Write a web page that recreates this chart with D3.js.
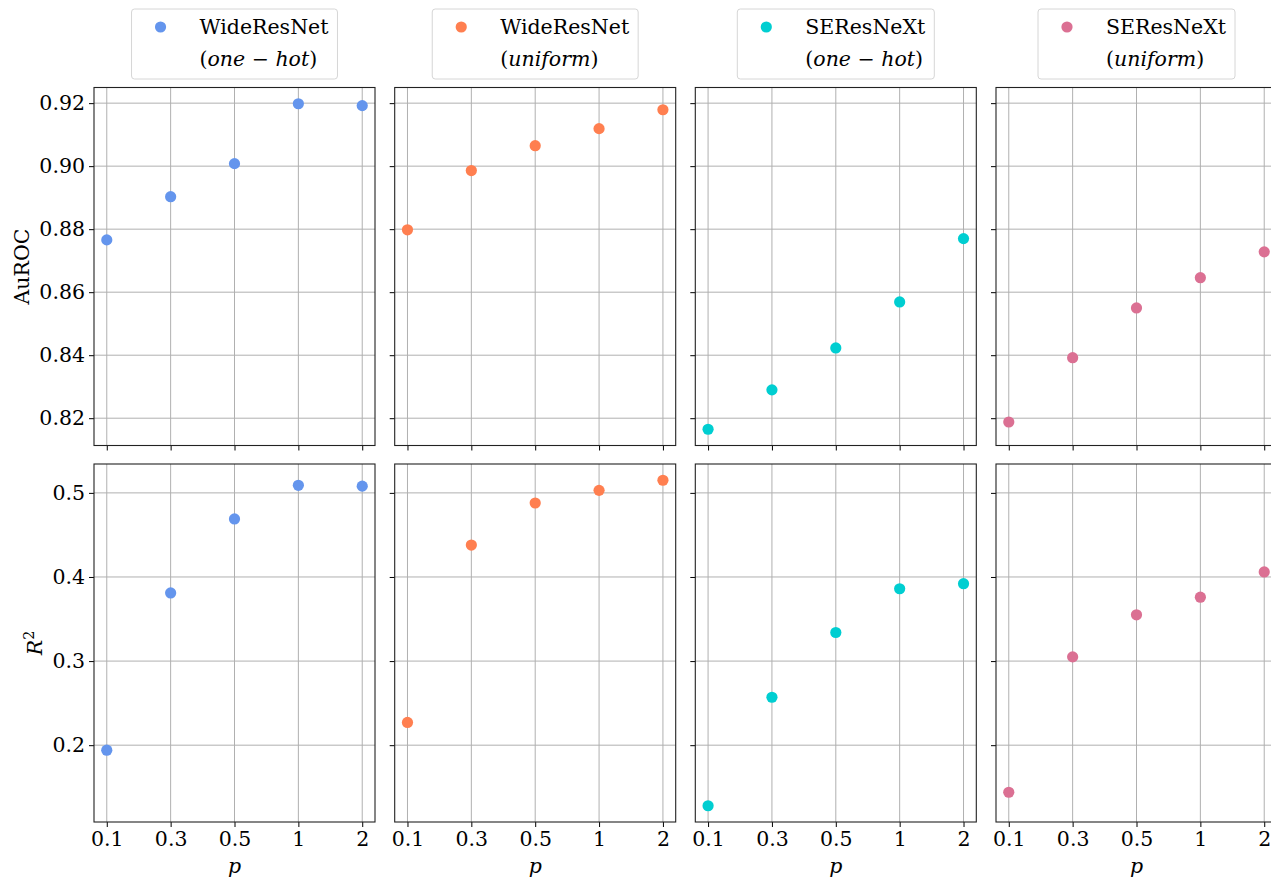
<!DOCTYPE html>
<html>
<head>
<meta charset="utf-8">
<script src="https://cdn.jsdelivr.net/npm/d3@7"></script>
<style>
  html, body { margin: 0; padding: 0; background: #fff; overflow: hidden; }
  svg { display: block; }
  text { font-family: "DejaVu Serif", serif; fill: #000; }
</style>
</head>
<body>
<svg id="chart" width="1271" height="877"></svg>
<script>
// Sweep values of p (categorical x axis)
const pValues = ["0.1", "0.3", "0.5", "1", "2"];

// AuROC per model / label encoding
const aurocWideOneHot  = [0.8766, 0.8903, 0.9008, 0.9198, 0.9192];
const aurocWideUniform = [0.8798, 0.8986, 0.9065, 0.9119, 0.9179];
const aurocSEOneHot    = [0.8165, 0.8290, 0.8423, 0.8569, 0.8770];
const aurocSEUniform   = [0.8188, 0.8392, 0.8550, 0.8646, 0.8728];

// R^2 per model / label encoding
const r2WideOneHot  = [0.194, 0.381, 0.469, 0.509, 0.508];
const r2WideUniform = [0.227, 0.438, 0.488, 0.503, 0.515];
const r2SEOneHot    = [0.128, 0.257, 0.334, 0.386, 0.392];
const r2SEUniform   = [0.144, 0.305, 0.355, 0.376, 0.406];

const modelNames = ["WideResNet", "WideResNet", "SEResNeXt", "SEResNeXt"];
const encodings  = ["one \u2212 hot", "uniform", "one \u2212 hot", "uniform"];
const colors     = ["#6495ED", "#FF7F50", "#00CED1", "#DB7093"];

const aurocTicks = [0.82, 0.84, 0.86, 0.88, 0.90, 0.92];
const r2Ticks    = [0.2, 0.3, 0.4, 0.5];

const rows = [
  { series: [aurocWideOneHot, aurocWideUniform, aurocSEOneHot, aurocSEUniform],
    ticks: aurocTicks, fmt: d3.format(".2f"), label: "AuROC" },
  { series: [r2WideOneHot, r2WideUniform, r2SEOneHot, r2SEUniform],
    ticks: r2Ticks, fmt: d3.format(".1f"), label: "R2" }
];

// Layout of the 2 x 4 grid of axes
const colLeft = [94, 394.7, 695.3, 996];
const panelW = 281;
const rowTop = [87.5, 464];
const panelH = 358;
const fontPx = 20.5;

const svg = d3.select("#chart");

rows.forEach((row, ri) => {
  // shared y range per row, with 5% margins
  const all = row.series.flat();
  const [lo, hi] = d3.extent(all);
  const pad = (hi - lo) * 0.05;
  const y = d3.scaleLinear()
    .domain([lo - pad, hi + pad])
    .range([rowTop[ri] + panelH, rowTop[ri]]);

  row.series.forEach((vals, ci) => {
    const x0 = colLeft[ci];
    const x = d3.scalePoint().domain(pValues).range([x0, x0 + panelW]).padding(0.2);
    const g = svg.append("g");

    // grid lines
    g.append("g").selectAll("line.gx").data(pValues).join("line")
      .attr("x1", d => x(d)).attr("x2", d => x(d))
      .attr("y1", rowTop[ri]).attr("y2", rowTop[ri] + panelH)
      .attr("stroke", "#b0b0b0").attr("stroke-width", 1);
    g.append("g").selectAll("line.gy").data(row.ticks).join("line")
      .attr("x1", x0).attr("x2", x0 + panelW)
      .attr("y1", d => y(d)).attr("y2", d => y(d))
      .attr("stroke", "#b0b0b0").attr("stroke-width", 1);

    // axes (ticks, with labels only where the grid shows them)
    const xAxis = d3.axisBottom(x).tickSize(5).tickPadding(4)
      .tickFormat(ri === rows.length - 1 ? (d => d) : () => "");
    const gx = g.append("g")
      .attr("transform", `translate(0,${rowTop[ri] + panelH})`)
      .call(xAxis);
    const yAxis = d3.axisLeft(y).tickValues(row.ticks).tickSize(5).tickPadding(4)
      .tickFormat(ci === 0 ? row.fmt : () => "");
    const gy = g.append("g")
      .attr("transform", `translate(${x0},0)`)
      .call(yAxis);
    [gx, gy].forEach(a => {
      a.select(".domain").remove();
      a.selectAll(".tick line").attr("stroke", "#000").attr("stroke-width", 1);
      a.selectAll(".tick text")
        .style("font-family", "DejaVu Serif")
        .style("font-size", fontPx + "px")
        .attr("fill", "#000");
    });

    // frame
    g.append("rect")
      .attr("x", x0).attr("y", rowTop[ri])
      .attr("width", panelW).attr("height", panelH)
      .attr("fill", "none").attr("stroke", "#222").attr("stroke-width", 1.1);

    // points
    g.append("g").selectAll("circle").data(vals).join("circle")
      .attr("cx", (d, i) => x(pValues[i]))
      .attr("cy", d => y(d))
      .attr("r", 5.6)
      .attr("fill", colors[ci]);

    // x label on bottom row
    if (ri === rows.length - 1) {
      g.append("text")
        .attr("x", x0 + panelW / 2).attr("y", 873)
        .attr("text-anchor", "middle")
        .style("font-size", fontPx + "px").style("font-style", "italic")
        .text("p");
    }
  });

  // y-axis label
  const cy = rowTop[ri] + panelH / 2;
  if (row.label === "AuROC") {
    svg.append("text")
      .attr("transform", `translate(29,${cy}) rotate(-90)`)
      .attr("text-anchor", "middle")
      .style("font-size", fontPx + "px")
      .text("AuROC");
  } else {
    const t = svg.append("text")
      .attr("transform", `translate(42,${cy}) rotate(-90)`)
      .attr("text-anchor", "middle")
      .style("font-size", fontPx + "px");
    t.append("tspan").style("font-style", "italic").text("R");
    t.append("tspan").attr("dy", -8).style("font-size", (fontPx * 0.7) + "px").text("2");
  }
});

// Legends above each column
colLeft.forEach((x0, ci) => {
  const cx = x0 + panelW / 2;
  const lg = svg.append("g");
  const frame = lg.append("rect");
  const t1 = lg.append("text")
    .attr("y", 27).attr("dy", "0.35em")
    .style("font-size", fontPx + "px")
    .text(modelNames[ci]);
  const t2 = lg.append("text")
    .attr("y", 59).attr("dy", "0.35em")
    .style("font-size", fontPx + "px");
  t2.append("tspan").text("(");
  t2.append("tspan").style("font-style", "italic").text(encodings[ci]);
  t2.append("tspan").text(")");
  const tw = Math.max(t1.node().getComputedTextLength(), t2.node().getComputedTextLength());
  const boxW = 68 + tw + 9;
  const bx = cx - boxW / 2;
  frame.attr("x", bx).attr("y", 9).attr("width", boxW).attr("height", 70)
    .attr("rx", 3).attr("fill", "#fff").attr("stroke", "#d6d6d6").attr("stroke-width", 1);
  lg.append("circle").attr("cx", bx + 29).attr("cy", 27).attr("r", 5.6).attr("fill", colors[ci]);
  t1.attr("x", bx + 68);
  t2.attr("x", bx + 68);
});
</script>
</body>
</html>
